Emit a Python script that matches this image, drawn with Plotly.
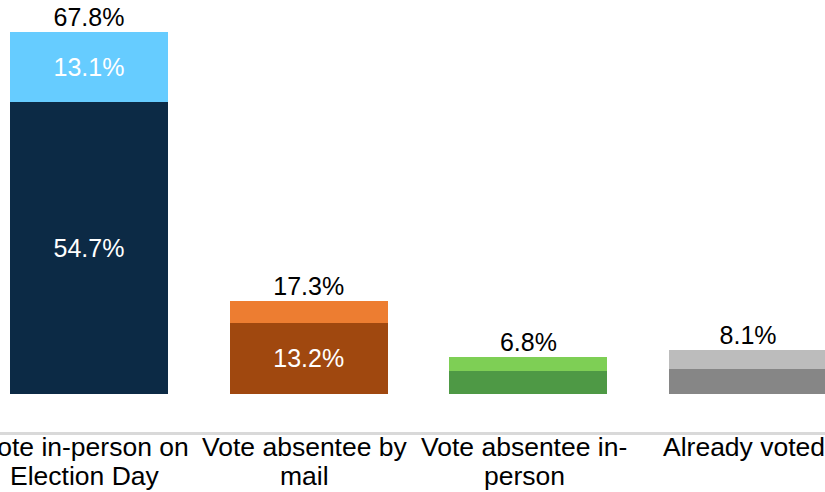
import plotly.graph_objects as go

categories = [
    "Vote in-person on Election Day",
    "Vote absentee by mail",
    "Vote absentee in-person",
    "Already voted",
]
label_line1 = ["Vote in-person on", "Vote absentee by", "Vote absentee in-", "Already voted"]
label_line2 = ["Election Day", "mail", "person", ""]
lower_values = [54.7, 13.2, 4.3, 4.6]
upper_values = [13.1, 4.1, 2.5, 3.5]
lower_labels = ["54.7%", "13.2%", "", ""]
upper_labels = ["13.1%", "", "", ""]
total_labels = ["67.8%", "17.3%", "6.8%", "8.1%"]

lower_colors = ["#0C2A45", "#A0480F", "#4E9945", "#868686"]
upper_colors = ["#66CCFF", "#ED7D31", "#7ECF55", "#BCBCBC"]

FONT = "Arial, Liberation Sans, sans-serif"
SIZE = 25
CAT_SIZE = 26.5


def build_figure() -> go.Figure:
    fig = go.Figure()
    for values, labels, colors in [
        (lower_values, lower_labels, lower_colors),
        (upper_values, upper_labels, upper_colors),
    ]:
        fig.add_trace(
            go.Bar(
                x=categories,
                y=values,
                marker=dict(color=colors, line=dict(width=0)),
                text=labels,
                textposition="inside",
                insidetextanchor="middle",
                textangle=0,
                insidetextfont=dict(color="white", size=SIZE, family=FONT),
                hoverinfo="skip",
            )
        )
    totals = [a + b for a, b in zip(lower_values, upper_values)]
    fig.add_trace(
        go.Scatter(
            x=categories,
            y=totals,
            mode="text",
            text=total_labels,
            textposition="top center",
            textfont=dict(color="black", size=SIZE, family=FONT),
            cliponaxis=False,
            hoverinfo="skip",
        )
    )

    # category labels, two lines each, set under the axis line
    for cat, l1, l2 in zip(categories, label_line1, label_line2):
        for text, shift in [(l1, -15), (l2, -44)]:
            if not text:
                continue
            fig.add_annotation(
                x=cat,
                y=0,
                xref="x",
                yref="paper",
                text=text,
                showarrow=False,
                xanchor="center",
                yanchor="middle",
                xshift=-4,
                yshift=shift,
                font=dict(size=CAT_SIZE, color="black", family=FONT),
            )

    fig.update_layout(
        width=825,
        height=492,
        barmode="stack",
        bargap=0.28,
        showlegend=False,
        plot_bgcolor="white",
        paper_bgcolor="white",
        margin=dict(l=0, r=0, t=0, b=60),
        font=dict(family=FONT, size=SIZE, color="black"),
        xaxis=dict(
            range=[-0.405, 3.35],
            showline=True,
            linecolor="#D9D9D9",
            linewidth=3,
            showgrid=False,
            ticks="",
            showticklabels=False,
            automargin=False,
        ),
        yaxis=dict(
            range=[-7.18, 73.8],
            visible=False,
            showgrid=False,
            zeroline=False,
            automargin=False,
        ),
    )
    return fig


def main() -> None:
    build_figure().write_html(
        "out.html",
        config={"displayModeBar": False},
        post_script="document.body.style.margin='0';",
    )


if __name__ == "__main__":
    main()
